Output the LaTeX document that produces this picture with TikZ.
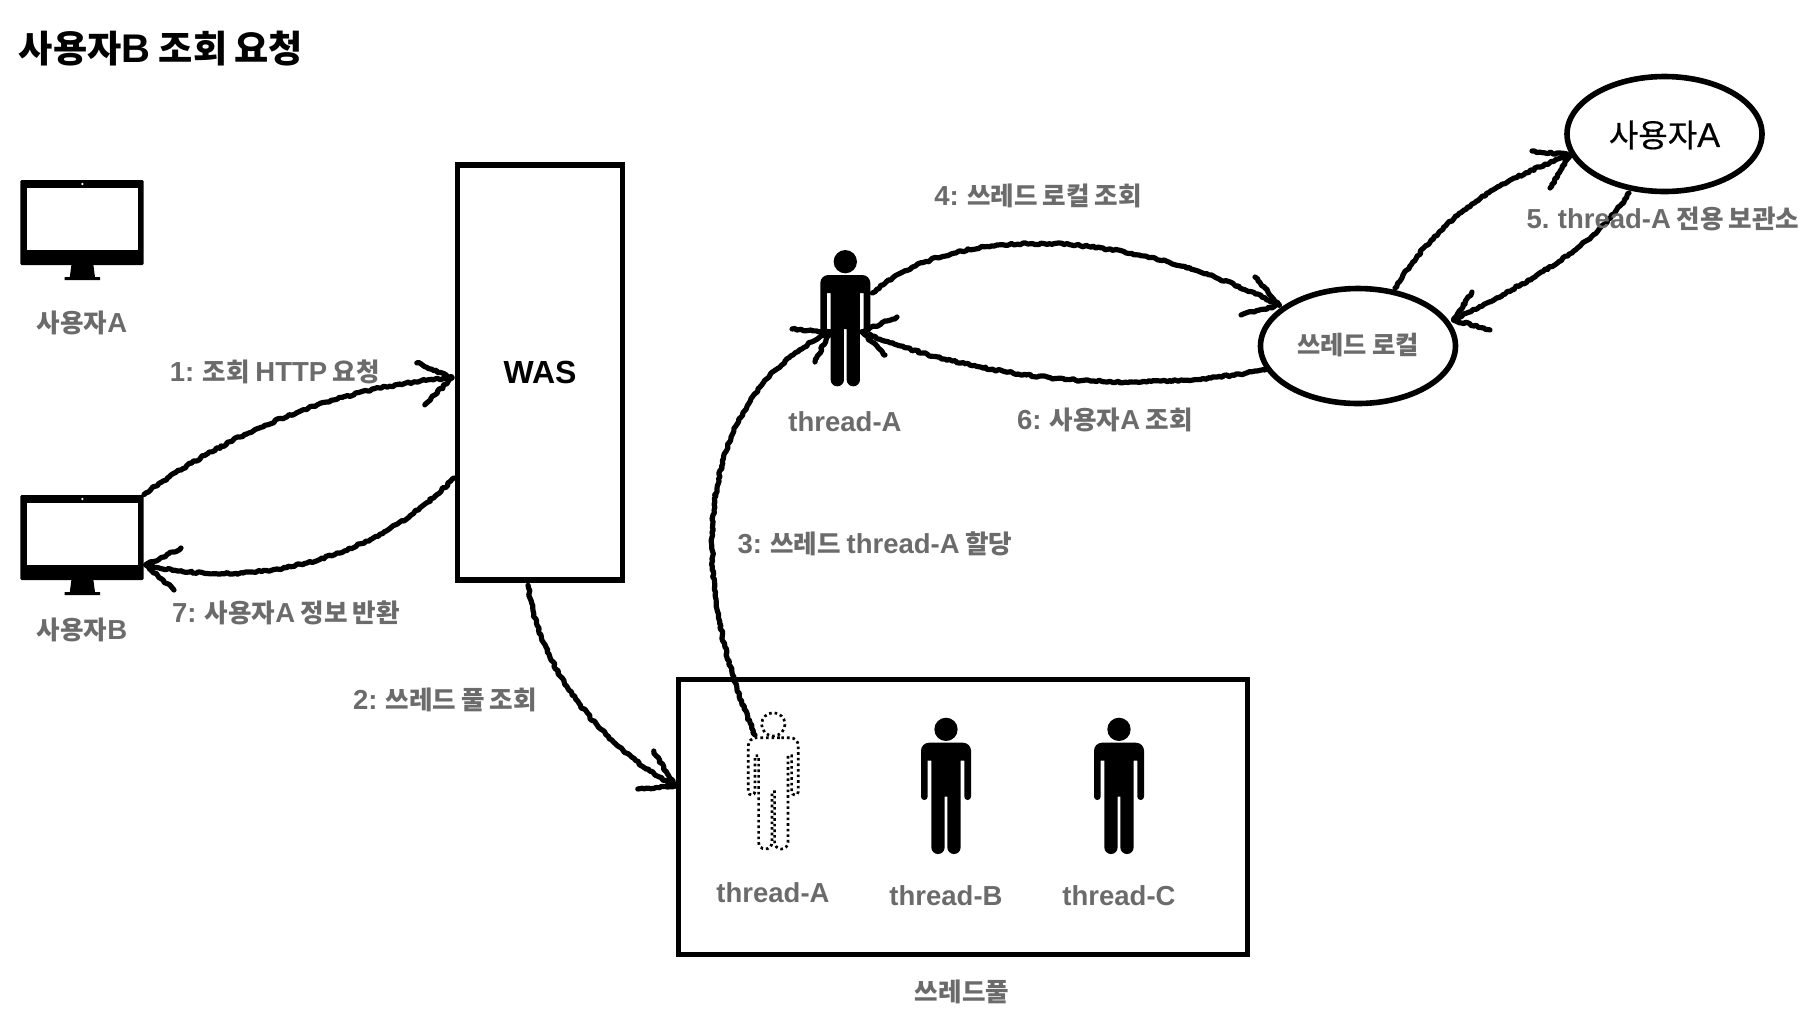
\documentclass[tikz,border=0pt]{standalone}
\usepackage{fontspec}
\setmainfont[WordSpace=0.75]{Liberation Sans}
\newfontfamily\krfont[Scale=0.93,WordSpace=0.85]{Noto Sans CJK KR}
\newfontfamily\krmed[Scale=0.93,FakeBold=0.5]{Noto Sans CJK KR}
\newfontfamily\latmed[FakeBold=0.5]{Liberation Sans}
\newcommand{\K}[1]{{\krfont #1}}
\usetikzlibrary{shapes.geometric,decorations.pathmorphing}
\pgfmathsetseed{7}
\definecolor{lab}{HTML}{6B6B6B}
\tikzset{
  chalk/.style={line width=2.6pt,line cap=round,line join=round,black,
    decorate,decoration={random steps,segment length=1.3pt,amplitude=.55pt}},
  boxs/.style={draw=black,line width=2.7pt,fill=white,inner sep=0pt},
  ell/.style={ellipse,draw=black,line width=2.8pt,fill=white,inner sep=0pt,minimum width=97.5pt,minimum height=57.5pt},
  lbl/.style={lab,inner sep=0pt,font=\fontsize{13.75pt}{16pt}\selectfont\bfseries},
  monbody/.style={fill=black,rounded corners=.6pt,inner sep=0pt,minimum width=61.6pt,minimum height=42.5pt},
  figbox/.style={inner sep=0pt,minimum width=25pt,minimum height=68.4pt},
  monextra/.pic={
    \fill[white] (-55,-34.8) rectangle (55.5,27.5);
    \fill[white] (0.4,-38.5) circle[radius=1.3];
    \fill[black] (-10.6,42.5) -- (11.4,42.5) -- (13,54.5) -- (18,54.5) -- (18,57.5) -- (-17.5,57.5) -- (-17.5,54.5) -- (-12.2,54.5) -- cycle;
  },
  figpath/.pic={
    \path[pic actions] (35,35) arc[start angle=0,end angle=360,radius=35];
    \path[pic actions] (0,75) [rounded corners=4pt] -- (75,75) -- (75,180) [sharp corners] -- (75,237)
      arc[start angle=0,end angle=180,radius=10] -- (55,129) -- (44,129) -- (44,389)
      arc[start angle=0,end angle=180,radius=20] -- (4,237) -- (-4,237) -- (-4,389)
      arc[start angle=0,end angle=180,radius=20] -- (-44,129) -- (-55,129) -- (-55,237)
      arc[start angle=0,end angle=180,radius=10] -- (-75,180) [rounded corners=4pt] -- (-75,75) -- cycle;
  },
}
\begin{document}
\begin{tikzpicture}[x=.5pt,y=-.5pt]
\useasboundingbox[fill=white] (0,0) rectangle (1812,1014);
% boxes
\node[boxs,minimum width=82.5pt,minimum height=207.5pt] (was) at (540,372.5) {};
\node[boxs,minimum width=284.5pt,minimum height=137.5pt] (pool) at (963,817) {};
\node[ell] (local) at (1358,346) {};
\node[ell] (usera) at (1664.5,134) {};
% monitors
\node[monbody] (monA) at (82,222.5) {};
\pic at (monA.center) {monextra};
\node[monbody] (monB) at (82,537.5) {};
\pic at (monB.center) {monextra};
% people
\node[figbox] (thA) at (845.3,318.3) {};
\pic[scale=1/3,fill=black] at (845.3,250) {figpath};
\node[figbox] (poolA) at (773.3,781) {};
\pic[scale=1/3,draw=black,line width=1.35pt,dash pattern=on 1.3pt off 1.5pt] at (773.3,712.7) {figpath};
\node[figbox] (poolB) at (946,786) {};
\pic[scale=1/3,fill=black] at (946,717.7) {figpath};
\node[figbox] (poolC) at (1119,786) {};
\pic[scale=1/3,fill=black] at (1119,717.7) {figpath};
% connector end points
\coordinate (t1) at ([xshift=-1.5pt,yshift=-2.7pt]was.west);
\coordinate (s7) at ([xshift=-.5pt,yshift=-52.75pt]was.west);
\coordinate (t7) at ([xshift=1pt,yshift=-13.75pt]monB.east);
\coordinate (s2) at ([xshift=-6pt,yshift=-1.25pt]was.south);
\coordinate (t2) at ([xshift=-.5pt,yshift=15.5pt]pool.west);
\coordinate (s3) at ([xshift=-9.15pt,yshift=23pt]poolA.center);
\coordinate (t3) at ([xshift=-7.65pt,yshift=-6.85pt]thA.center);
\coordinate (s4) at ([xshift=.85pt,yshift=12.65pt]thA.east);
\coordinate (t4) at ([xshift=-39.5pt,yshift=20.5pt]local.center);
\coordinate (s5u) at ([xshift=18.5pt,yshift=29pt]local.center);
\coordinate (t5u) at ([xshift=-47.25pt,yshift=-10.5pt]usera.center);
\coordinate (s5d) at ([xshift=-17.75pt,yshift=-29.5pt]usera.center);
\coordinate (t5d) at ([xshift=47.75pt,yshift=13pt]local.center);
\coordinate (s6) at ([xshift=-46.5pt,yshift=-12pt]local.center);
\coordinate (t6) at ([xshift=8.35pt,yshift=-6.85pt]thA.center);
% connectors
\draw[chalk] (monB.north east) .. controls (240,425) and (350,385) .. (t1);
\draw[chalk] (t1) ++(-35,-15) -- (t1) -- ++(-27,27);
\draw[chalk] (s7) .. controls (360,575) and (230,585) .. (t7);
\draw[chalk] (t7) ++(35,-17) -- (t7) -- ++(28,25);
\draw[chalk] (s2) .. controls (540,670) and (600,745) .. (t2);
\draw[chalk] (t2) ++(-21,-35) -- (t2) -- ++(-37,3);
\draw[chalk] (s3) .. controls (695,600) and (680,405) .. (t3);
\draw[chalk] (t3) ++(-38,-3) -- (t3) -- ++(-15,30);
\draw[chalk] (s4) .. controls (950,225) and (1120,225) .. (t4);
\draw[chalk] (t4) ++(-24,-28) -- (t4) -- ++(-38,10);
\draw[chalk] (s5u) .. controls (1440,215) and (1500,180) .. (t5u);
\draw[chalk] (t5u) ++(-38,-4) -- (t5u) -- ++(-20,33);
\draw[chalk] (s5d) .. controls (1590,255) and (1510,290) .. (t5d);
\draw[chalk] (t5d) ++(18.5,-28) -- (t5d) -- ++(36.5,10);
\draw[chalk] (s6) .. controls (1130,395) and (980,380) .. (t6);
\draw[chalk] (t6) ++(35,-15) -- (t6) -- ++(23,23);
% texts
\node[anchor=west,inner sep=0pt,font=\fontsize{20pt}{22pt}\selectfont\bfseries] (title) at (18.5,49) {\K{사용자}B \K{조회 요청}};
\node[inner sep=0pt,font=\fontsize{16pt}{18pt}\selectfont\bfseries] (wast) at (540,372.5) {WAS};
\node[inner sep=0pt,font=\fontsize{17.2pt}{20pt}\selectfont] (useratxt) at (1664.5,135) {{\krmed 사용자}{\latmed A}};
\node[lbl,font=\fontsize{13.6pt}{16pt}\selectfont\bfseries] (localtxt) at (1358,345) {\K{쓰레드 로컬}};
\node[lbl] (l1) at (82,323) {\K{사용자}A};
\node[lbl] (l2) at (82,630) {\K{사용자}B};
\node[lbl] (m1) at (275,372) {1: \K{조회} HTTP \K{요청}};
\node[lbl] (m7) at (286,613) {7: \K{사용자}A \K{정보 반환}};
\node[lbl] (m2) at (445,700) {2: \K{쓰레드 풀 조회}};
\node[lbl] (m3) at (875,544) {3: \K{쓰레드} thread-A \K{할당}};
\node[lbl] (m4) at (1038,196) {4: \K{쓰레드 로컬 조회}};
\node[lbl] (m5) at (1663,219) {5. thread-A \K{전용 보관소}};
\node[lbl] (m6) at (1105,420) {6: \K{사용자}A \K{조회}};
\node[lbl] (n0) at (845,422) {thread-A};
\node[lbl] (na) at (773,893) {thread-A};
\node[lbl] (nb) at (946,896) {thread-B};
\node[lbl] (nc) at (1119,896) {thread-C};
\node[lbl] (pl) at (962,992) {\K{쓰레드풀}};
\end{tikzpicture}
\end{document}
